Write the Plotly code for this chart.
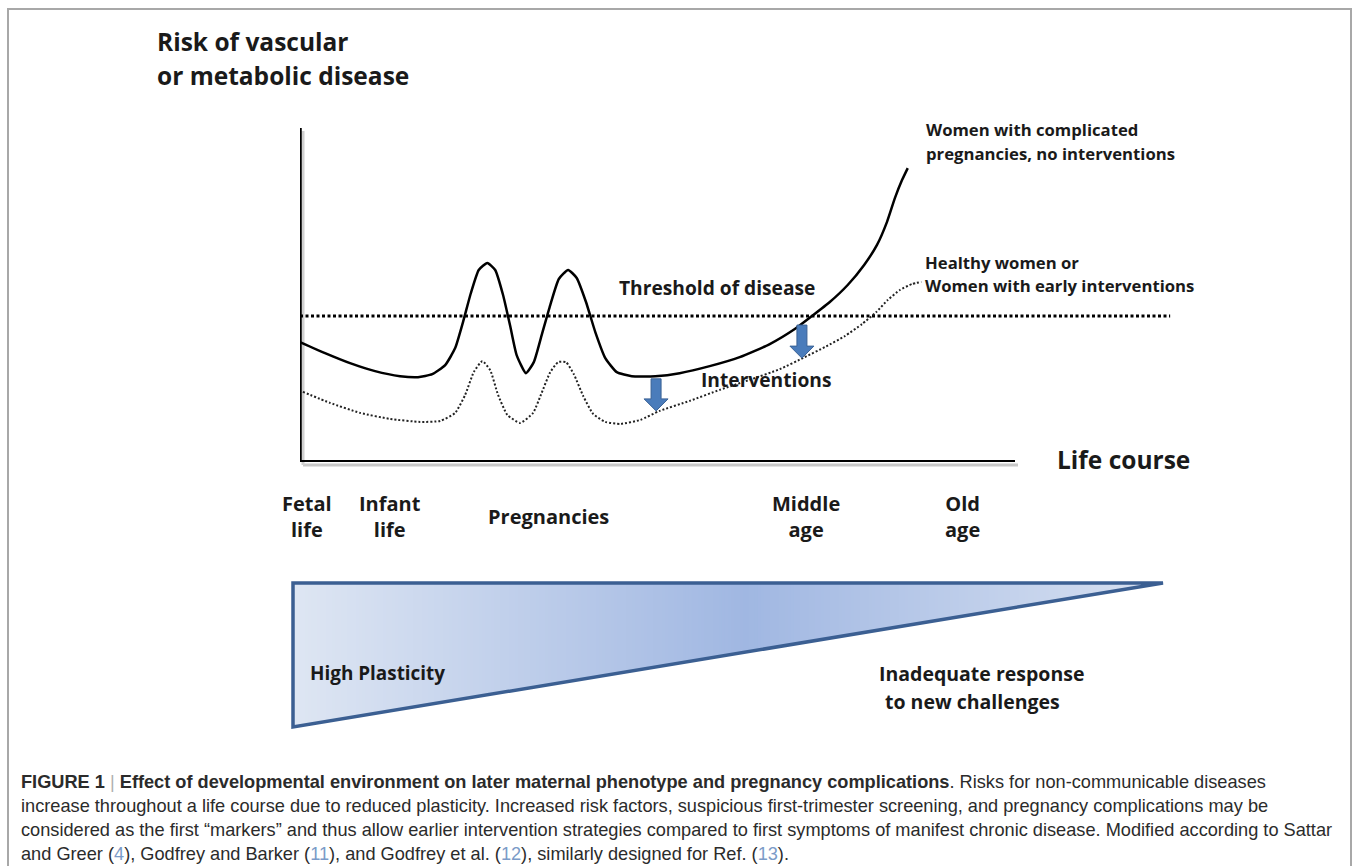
import plotly.graph_objects as go

W, H = 1358, 866

# ---------------- data (life-course units 0..100, risk units 0..100) ----------------
solid_x = [0.0, 3.5, 7.0, 10.5, 14.0, 16.5, 18.5, 20.3, 21.7, 22.8, 23.9, 25.0, 26.2, 27.3,
           28.4, 29.4, 30.3, 31.6, 32.7, 33.8, 35.0, 36.2, 37.5, 38.7, 40.0, 41.3, 42.7, 44.3,
           46.4, 49.7, 53.1, 57.3, 61.5, 65.7, 69.2, 71.6, 74.1, 76.6, 78.9, 80.7, 82.1, 83.2,
           84.2, 85.0]
solid_y = [35.9, 32.6, 29.6, 27.2, 25.7, 25.4, 26.3, 29.0, 34.1, 41.9, 50.6, 57.5, 59.6, 57.5,
           50.0, 40.7, 32.0, 26.6, 29.9, 38.0, 47.0, 54.8, 57.5, 55.1, 47.9, 38.9, 31.1, 26.9,
           25.7, 25.7, 26.6, 28.7, 31.4, 35.3, 39.8, 43.7, 47.9, 53.0, 59.0, 65.0, 71.9, 79.0,
           84.4, 88.0]

dotted_x = [0.4, 4.2, 8.4, 12.6, 16.8, 19.6, 21.7, 23.1, 24.3, 25.5, 26.6, 27.7, 29.0, 30.8,
            32.6, 33.8, 35.0, 36.1, 37.2, 38.3, 39.6, 41.0, 42.7, 44.8, 47.6, 50.3, 54.5, 58.7,
            62.9, 67.1, 70.6, 73.4, 76.2, 78.6, 80.6, 82.2, 83.9, 85.6, 86.9]
dotted_y = [21.0, 17.7, 14.7, 12.9, 12.0, 12.3, 14.7, 20.1, 26.9, 30.2, 27.5, 20.1, 14.1, 11.7,
            14.7, 20.7, 26.9, 29.9, 29.9, 26.3, 19.8, 14.4, 12.0, 11.4, 12.6, 15.3, 18.3, 21.6,
            24.6, 27.8, 31.4, 34.4, 37.7, 41.3, 44.9, 48.5, 51.5, 53.3, 53.9]

threshold_level = 43.7
threshold_x = [0.0, 121.7]

intervention_x = [49.8, 70.2]
intervention_from = [24.9, 41.0]
intervention_to = [15.3, 31.1]

stage_labels = ["Fetal<br>life", "Infant<br>life", "Pregnancies", "Middle<br>age", "Old<br>age"]
stage_x = [1.0, 12.6, 34.8, 70.8, 92.7]

plasticity_colors = [(222, 230, 243), (160, 183, 226), (216, 225, 241)]  # left, peak, right
plasticity_peak = 0.52

# ---------------- geometry ----------------
X0, Y0 = 300, 462          # pixel origin of life-course axes
SX, SY = 7.15, 3.34        # pixels per unit
XDOM = (300, 1250)
YDOM = (100, 462)

def px(u): return X0 + u * SX
def py(v): return Y0 - v * SY
def fx(p): return p / W
def fy(p): return 1 - p / H

FONT = "Open Sans"
INK = "#1a1a1a"

fig = go.Figure()

fig.add_trace(go.Scatter(x=threshold_x, y=[threshold_level] * 2, mode="lines",
                         line=dict(color="black", width=3, dash="3px,2.5px"),
                         hoverinfo="skip", showlegend=False))
fig.add_trace(go.Scatter(x=dotted_x, y=dotted_y, mode="lines",
                         line=dict(color="#222", width=2, dash="2px,2px", shape="spline", smoothing=0.5),
                         hoverinfo="skip", showlegend=False))
fig.add_trace(go.Scatter(x=solid_x, y=solid_y, mode="lines",
                         line=dict(color="black", width=2.5, shape="spline", smoothing=0.5),
                         hoverinfo="skip", showlegend=False))

shapes = []

# outer frame
shapes.append(dict(type="rect", xref="paper", yref="paper", x0=fx(8), x1=fx(1351), y0=fy(9), y1=fy(880),
                   line=dict(color="#a8a8a8", width=2), fillcolor="rgba(0,0,0,0)", layer="below"))

# axis shadows
shapes.append(dict(type="line", xref="paper", yref="paper", x0=fx(px(0) + 3), x1=fx(px(100) + 3),
                   y0=fy(py(0) + 3), y1=fy(py(0) + 3), line=dict(color="#c8c8c8", width=3), layer="below"))
shapes.append(dict(type="line", xref="paper", yref="paper", x0=fx(px(0) + 3), x1=fx(px(0) + 3),
                   y0=fy(py(100) + 3), y1=fy(py(0) + 3), line=dict(color="#d0d0d0", width=3), layer="below"))
# axes
shapes.append(dict(type="line", xref="x", yref="y", x0=0, x1=0, y0=0, y1=100,
                   line=dict(color="black", width=3.5)))
shapes.append(dict(type="line", xref="x", yref="y", x0=0, x1=100, y0=0, y1=0,
                   line=dict(color="black", width=4)))

# intervention arrows
for xu, v0, v1 in zip(intervention_x, intervention_from, intervention_to):
    cx, ya, yb = px(xu), py(v0), py(v1)
    bw, hw, hl = 5, 12, 12
    pts = [(cx - bw, ya), (cx + bw, ya), (cx + bw, yb - hl), (cx + hw, yb - hl), (cx, yb),
           (cx - hw, yb - hl), (cx - bw, yb - hl)]
    path = "M " + " L ".join(f"{fx(a):.5f},{fy(b):.5f}" for a, b in pts) + " Z"
    shapes.append(dict(type="path", xref="paper", yref="paper", path=path,
                       fillcolor="#4a7cbb", line=dict(color="#3a6296", width=1)))

# plasticity triangle with horizontal gradient
TL, TR, BL = (293, 583), (1163, 583), (293, 727)

def tri_bottom(x):
    return BL[1] - (BL[1] - TL[1]) * (x - TL[0]) / (TR[0] - TL[0])

def grad(t):
    c0, c1, c2 = plasticity_colors
    if t <= plasticity_peak:
        s = t / plasticity_peak
        a, b = c0, c1
    else:
        s = (t - plasticity_peak) / (1 - plasticity_peak)
        a, b = c1, c2
    return "rgb(%d,%d,%d)" % tuple(round(a[i] + (b[i] - a[i]) * s) for i in range(3))

step = 3
x = TL[0]
while x < TR[0]:
    xa, xb = x, min(x + step + 1, TR[0])
    t = (x + step / 2 - TL[0]) / (TR[0] - TL[0])
    path = (f"M {fx(xa):.5f},{fy(TL[1]):.5f} L {fx(xb):.5f},{fy(TL[1]):.5f} "
            f"L {fx(xb):.5f},{fy(tri_bottom(xb)):.5f} L {fx(xa):.5f},{fy(tri_bottom(xa)):.5f} Z")
    shapes.append(dict(type="path", xref="paper", yref="paper", path=path,
                       fillcolor=grad(t), line=dict(width=0), layer="below"))
    x += step
shapes.append(dict(type="path", xref="paper", yref="paper",
                   path=f"M {fx(TL[0])},{fy(TL[1])} L {fx(TR[0])},{fy(TR[1])} L {fx(BL[0])},{fy(BL[1])} Z",
                   line=dict(color="#3b5f92", width=3.5), fillcolor="rgba(0,0,0,0)"))

ann = []

def label(text, xp, yp, size, anchor="left", bold=True, color=INK, family=FONT):
    ann.append(dict(text=f"<b>{text}</b>" if bold else text, x=fx(xp), y=fy(yp), xref="paper", yref="paper",
                    xanchor=anchor, yanchor="middle", showarrow=False, align=anchor if anchor != "center" else "center",
                    font=dict(family=family, size=size, color=color)))

label("Risk of vascular", 155, 42, 24.5)
label("or metabolic disease", 155, 76, 24.5)
label("Life course", 1055, 459, 24.5)
label("Threshold of disease", 617, 287, 19.2)
label("Interventions", 699, 379, 19.2)
label("Women with complicated", 924, 129, 16.7)
label("pregnancies, no interventions", 924, 153, 16.7)
label("Healthy women or", 923, 262, 16.7)
label("Women with early interventions", 923, 285, 16.7)
label("High Plasticity", 308, 673, 18.9)
label("Inadequate response", 877, 673, 19.5)
label("to new challenges", 883, 701, 19.5)

for txt, xu in zip(stage_labels, stage_x):
    ann.append(dict(text=f"<b>{txt}</b>", x=xu, y=fy(516), xref="x", yref="paper", xanchor="center",
                    yanchor="middle", showarrow=False, align="center",
                    font=dict(family=FONT, size=20, color=INK)))

CAP = "Liberation Sans"
ref = "<span style='color:#7b9bc8'>%s</span>"
caption = [
    "<b>FIGURE 1</b> <span style='color:#b0b0b0'>|</span> <b>Effect of developmental environment on later maternal "
    "phenotype and pregnancy complications</b>. Risks for non-communicable diseases",
    "increase throughout a life course due to reduced plasticity. Increased risk factors, suspicious "
    "first-trimester screening, and pregnancy complications may be",
    "considered as the first \u201cmarkers\u201d and thus allow earlier intervention strategies compared to first "
    "symptoms of manifest chronic disease. Modified according to Sattar",
    "and Greer (" + ref % "4" + "), Godfrey and Barker (" + ref % "11" + "), and Godfrey et al. (" + ref % "12"
    + "), similarly designed for Ref. (" + ref % "13" + ").",
]
for i, line in enumerate(caption):
    label(line, 19, 782 + i * 24.0, 18.2, bold=False, color="#2b2b2b", family=CAP)

fig.update_layout(
    width=W, height=H, margin=dict(l=0, r=0, t=0, b=0),
    paper_bgcolor="white", plot_bgcolor="rgba(0,0,0,0)",
    xaxis=dict(domain=[fx(XDOM[0]), fx(XDOM[1])], range=[0, (XDOM[1] - XDOM[0]) / SX], visible=False, fixedrange=True),
    yaxis=dict(domain=[fy(YDOM[1]), fy(YDOM[0])], range=[0, (YDOM[1] - YDOM[0]) / SY], visible=False, fixedrange=True),
    shapes=shapes, annotations=ann, showlegend=False,
)

fig.write_html("out.html", config={"displayModeBar": False},
               post_script="document.body.style.margin='0';document.body.style.overflow='hidden';")
